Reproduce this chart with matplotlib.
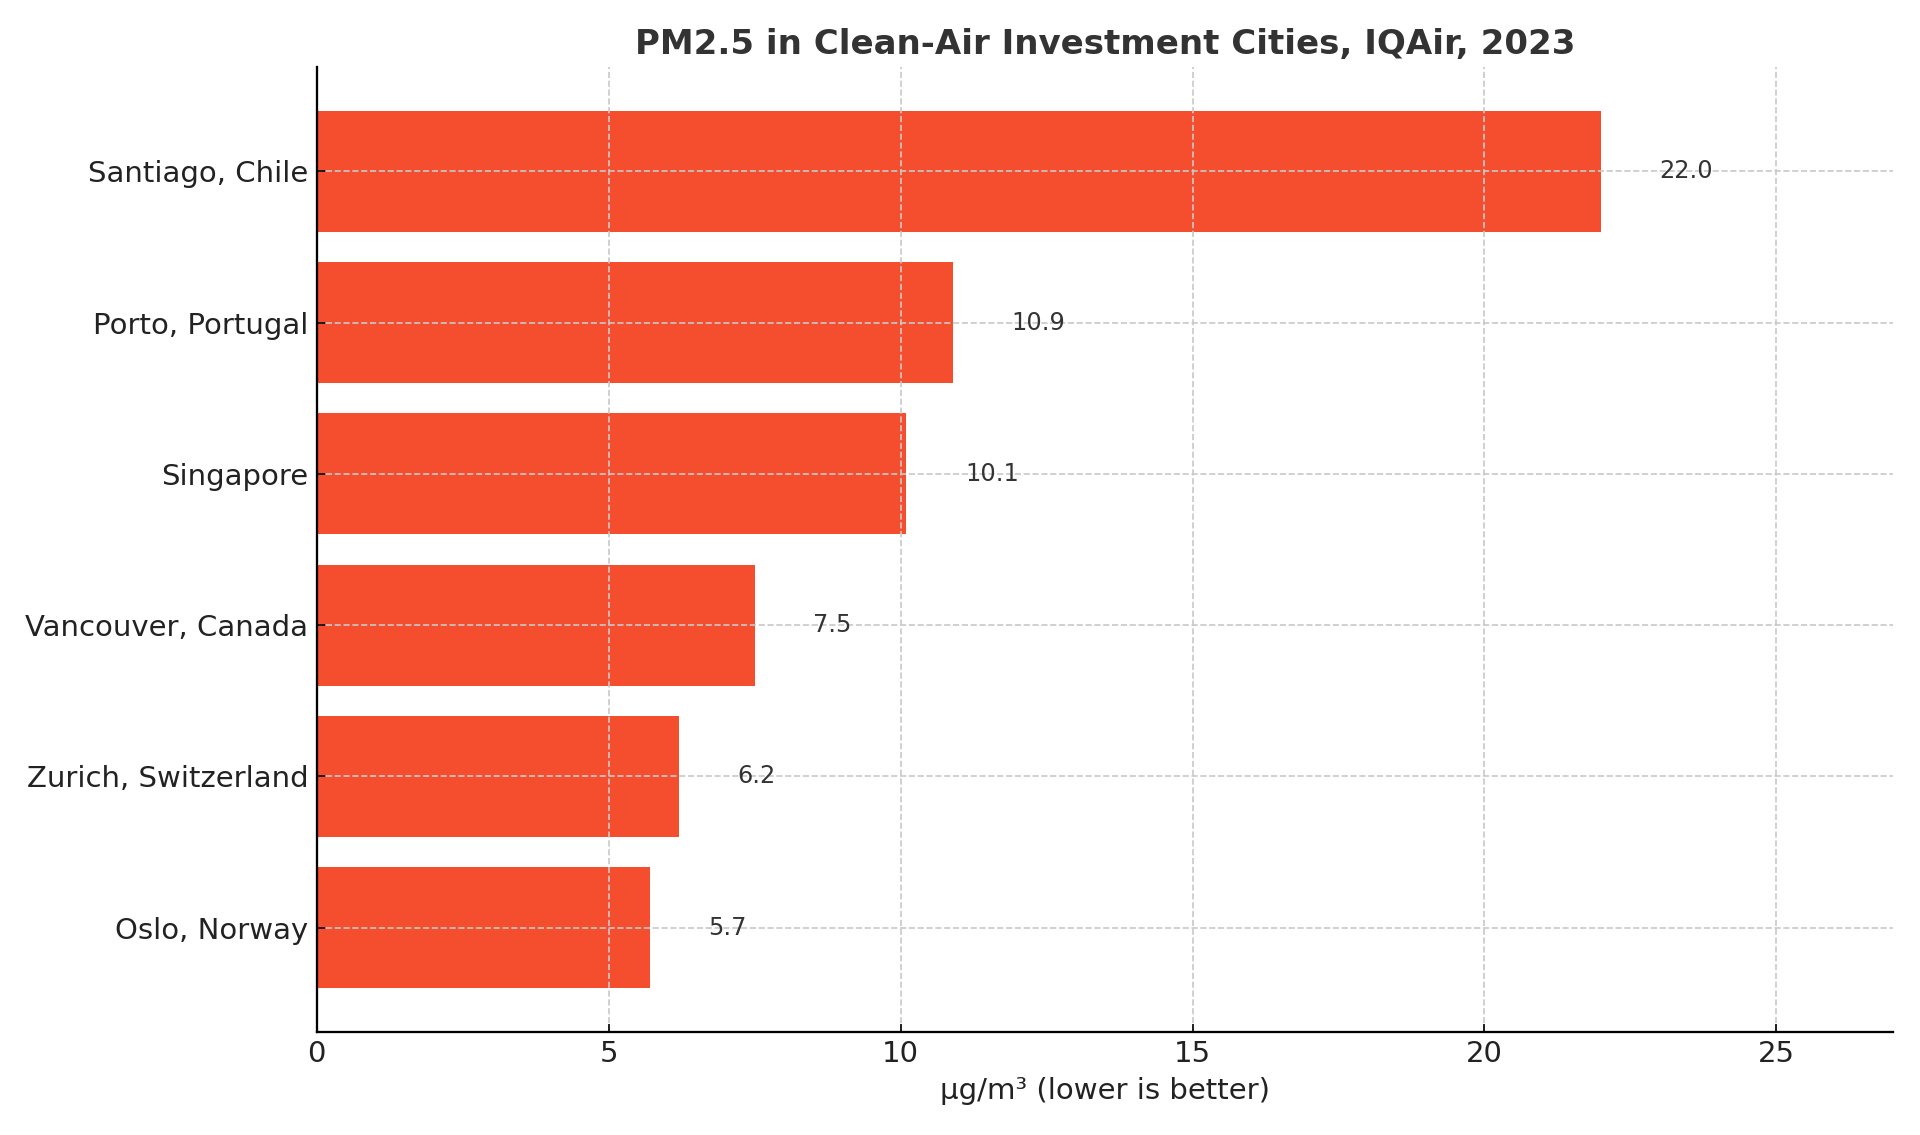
import matplotlib
matplotlib.use("Agg")
import matplotlib.pyplot as plt

# 데이터 (아래에서 위 순서).
cities = ["Oslo, Norway", "Zurich, Switzerland", "Vancouver, Canada",
          "Singapore", "Porto, Portugal", "Santiago, Chile"]
pm25 = [5.7, 6.2, 7.5, 10.1, 10.9, 22.0]
xticks = [0, 5, 10, 15, 20, 25]

# Plot
fig, ax = plt.subplots(figsize=(12.8, 7.5667), dpi=150)
bars = ax.barh(cities, pm25, height=0.8, color="#F44E2E")

for y, v in enumerate(pm25):
    ax.text(v + 1, y, f"{v:.1f}", va="center", ha="left", fontsize=11.5, color="#333333")

ax.set_xlim(0, 27)
ax.set_xticks(xticks)
ax.grid(True, linestyle="--", color="#c8c8c8", linewidth=0.8)
ax.spines["top"].set_visible(False)
ax.spines["right"].set_visible(False)
ax.spines["left"].set_linewidth(1.1)
ax.spines["bottom"].set_linewidth(1.1)
ax.tick_params(axis="both", labelsize=14, direction="in", length=4, pad=4,
               labelcolor="#222222")
ax.set_xlabel("µg/m³ (lower is better)", fontsize=14, color="#222222")
ax.set_title("PM2.5 in Clean-Air Investment Cities, IQAir, 2023",
             fontsize=16.3, fontweight="bold", color="#333333")

plt.subplots_adjust(left=0.165, right=0.986, top=0.941, bottom=0.0907)
plt.savefig("out.png", dpi=150)
